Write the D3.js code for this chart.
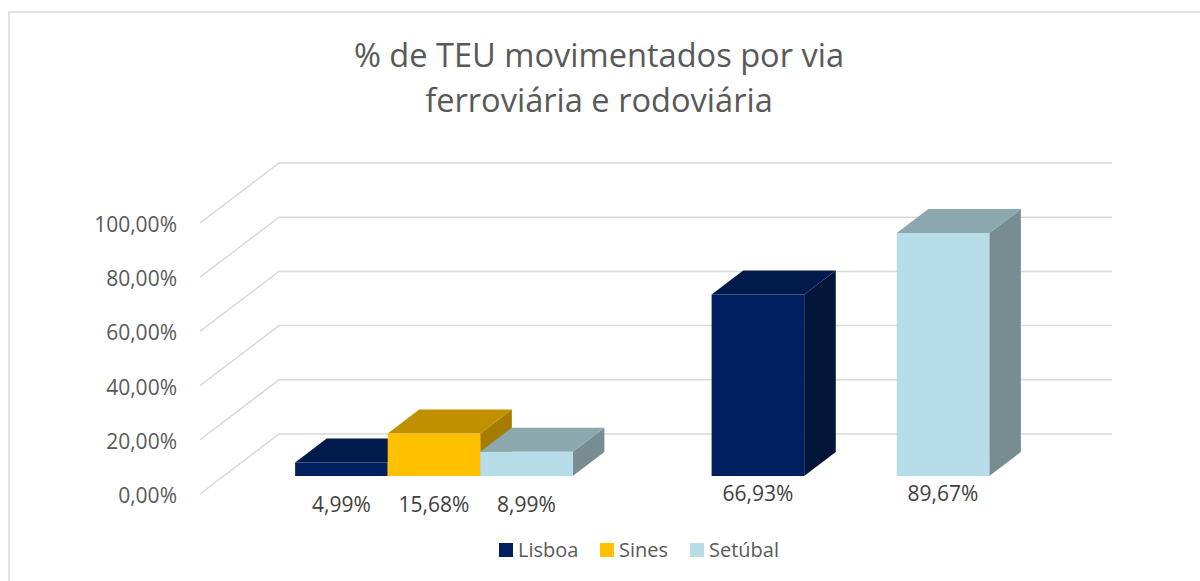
<!DOCTYPE html>
<html>
<head>
<meta charset="utf-8">
<script src="https://cdn.jsdelivr.net/npm/d3@7/dist/d3.min.js"></script>
<style>
  html, body { margin: 0; padding: 0; background: #fff; }
  svg { display: block; }
  text { font-family: "Open Sans", sans-serif; }
</style>
</head>
<body>
<svg id="chart" width="1200" height="581"></svg>
<script>
// ---- data ----
const titleLines = ["% de TEU movimentados por via", "ferroviária e rodoviária"];
const categories = ["Ferroviária", "Rodoviária"];
const series = ["Lisboa", "Sines", "Setúbal"];
const lisboa = [4.99, 66.93];
const sines = [15.68, null];
const setubal = [8.99, 89.67];
const yTicks = [0, 20, 40, 60, 80, 100];
const yTickLabels = ["0,00%", "20,00%", "40,00%", "60,00%", "80,00%", "100,00%"];
const valueLabels = {
  Lisboa: ["4,99%", "66,93%"],
  Sines: ["15,68%", ""],
  "Setúbal": ["8,99%", "89,67%"]
};

// ---- styles ----
const colors = {
  Lisboa:   { front: "#00205f", top: "#001a4c", side: "#011639" },
  Sines:    { front: "#ffc000", top: "#c09000", side: "#a57c00" },
  "Setúbal": { front: "#b7dee8", top: "#8aa8ae", side: "#778d91" }
};
const labelDy = [36, 25];

const values = { Lisboa: lisboa, Sines: sines, "Setúbal": setubal };

const svg = d3.select("#chart");

// border
svg.append("rect")
  .attr("x", 9).attr("y", 12).attr("width", 1250).attr("height", 650)
  .attr("fill", "none").attr("stroke", "#d9d9d9").attr("stroke-width", 1.5);

// title
svg.append("g").selectAll("text").data(titleLines).join("text")
  .attr("x", 599).attr("y", (d, i) => 67 + i * 45)
  .attr("text-anchor", "middle")
  .attr("font-size", 32.6).attr("fill", "#595959")
  .text(d => d);

// 3D projection parameters
const DX = 79, DY = 60;           // total depth offset (back minus front)
const d0 = 0.3, d1 = 0.7;         // bar depth span (fraction of depth)

const yBack = d3.scaleLinear().domain([0, 100]).range([434, 163]);
const yAt = (v, d) => yBack(v) + DY * (1 - d);
const xFront0 = 200, xFront1 = 1033;

const xCat = d3.scaleBand().domain(categories).range([xFront0 + 2, xFront1 + 2]);
const xSer = d3.scaleBand().domain(series).range([0, xCat.bandwidth()])
  .paddingInner(0).paddingOuter(0.75);
const xAt = (x, d) => x + DX * d;

// gridlines
const grid = svg.append("g");
yTicks.forEach(v => {
  const p = d3.path();
  p.moveTo(xAt(xFront0, 0), yAt(v, 0));
  p.lineTo(xAt(xFront0, 1), yAt(v, 1));
  p.lineTo(xAt(xFront1, 1), yAt(v, 1));
  grid.append("path").attr("d", p.toString())
    .attr("fill", "none").attr("stroke", "#d9d9d9").attr("stroke-width", 1.5);
});

// y tick labels
svg.append("g").selectAll("text").data(yTicks).join("text")
  .attr("x", 177).attr("y", v => yAt(v, 0) + 1)
  .attr("text-anchor", "end").attr("dominant-baseline", "central")
  .attr("font-size", 21).attr("fill", "#595959")
  .text((v, i) => yTickLabels[i]);

// bars
const bars = svg.append("g");
const poly = pts => "M" + pts.map(p => p.join(",")).join("L") + "Z";
categories.forEach((c, ci) => {
  series.forEach(s => {
    const v = values[s][ci];
    if (v == null) return;
    const xl = xCat(c) + xSer(s);
    const xr = xl + xSer.bandwidth();
    const col = colors[s];
    const FL = [xAt(xl, d0), yAt(0, d0)], FR = [xAt(xr, d0), yAt(0, d0)];
    const TL = [xAt(xl, d0), yAt(v, d0)], TR = [xAt(xr, d0), yAt(v, d0)];
    const BTL = [xAt(xl, d1), yAt(v, d1)], BTR = [xAt(xr, d1), yAt(v, d1)];
    const BBR = [xAt(xr, d1), yAt(0, d1)];
    // right side
    bars.append("path").attr("d", poly([FR, TR, BTR, BBR])).attr("fill", col.side);
    // top
    bars.append("path").attr("d", poly([TL, BTL, BTR, TR])).attr("fill", col.top);
    // front
    bars.append("path").attr("d", poly([FL, TL, TR, FR])).attr("fill", col.front);
  });
});

// value labels
const labels = svg.append("g");
categories.forEach((c, ci) => {
  series.forEach(s => {
    const v = values[s][ci];
    if (v == null) return;
    const xc = xCat(c) + xSer(s) + xSer.bandwidth() / 2;
    labels.append("text")
      .attr("x", xAt(xc, d0)).attr("y", yAt(0, d0) + labelDy[ci])
      .attr("text-anchor", "middle")
      .attr("font-size", 21).attr("fill", "#404040")
      .text(valueLabels[s][ci]);
  });
});

// legend
const legendX = [499, 600, 690];
const lg = svg.append("g");
series.forEach((s, i) => {
  lg.append("rect").attr("x", legendX[i]).attr("y", 543).attr("width", 14).attr("height", 14)
    .attr("fill", colors[s].front);
  lg.append("text").attr("x", legendX[i] + 19).attr("y", 557)
    .attr("font-size", 20).attr("fill", "#595959").text(s);
});
</script>
</body>
</html>
